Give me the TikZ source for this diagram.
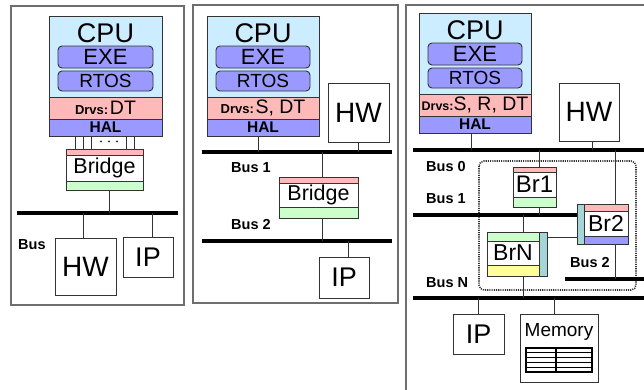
\documentclass[tikz,border=0pt]{standalone}
\usepackage{fontspec}
\setmainfont{Liberation Sans}
\usetikzlibrary{calc}

\definecolor{cpublue}{HTML}{CCECFF}
\definecolor{swblue}{HTML}{9999FF}
\definecolor{drvpink}{HTML}{FFB9B9}
\definecolor{brgreen}{HTML}{CCFFCC}
\definecolor{sideteal}{HTML}{A6D5D8}
\definecolor{bryellow}{HTML}{FFFF99}
\definecolor{framegray}{HTML}{6E6E6E}
\definecolor{edgegray}{HTML}{333333}

\newcommand\setfs[1]{\fontsize{#1}{#1}\selectfont}

\tikzset{
  x=1pt, y=-1pt,
  layer/.style={draw=edgegray, line width=0.9pt, inner sep=0pt, outer sep=0pt, anchor=north west},
  swbox/.style={layer, fill=swblue, rounded corners=4pt},
  plainbox/.style={layer, fill=white},
  panel/.style={draw=framegray, line width=1.3pt},
  wire/.style={draw=edgegray, line width=0.9pt},
  busline/.style={draw=black, line width=4pt},
  buslabel/.style={anchor=west, inner sep=0pt, font=\setfs{14.5}\bfseries},
  txt/.style={inner sep=0pt},
}

% CPU with its software stack: #1 prefix, #2 x, #3 y, #4 width, #5 driver line
\newcommand\cpustack[5]{%
  \node[layer, fill=cpublue, minimum width=#4, minimum height=81] (#1cpu) at (#2,#3) {};
  \node[txt, font=\setfs{27}] (#1cpulbl) at (#2+#4/2,#3+17) {CPU};
  \node[swbox, minimum width=#4-18, minimum height=22, font=\setfs{22}] (#1exe) at (#2+9,#3+30) {EXE};
  \node[swbox, minimum width=#4-18, minimum height=20, font=\setfs{19}] (#1rtos) at (#2+9,#3+55) {RTOS};
  \node[layer, fill=drvpink, minimum width=#4, minimum height=22] (#1drv) at (#2,#3+81) {#5};
  \node[layer, fill=swblue, minimum width=#4, minimum height=17, font=\setfs{15.5}\bfseries] (#1hal) at (#2,#3+103) {HAL};
}

\begin{document}
\begin{tikzpicture}
\useasboundingbox (0,0) rectangle (644,389);

% ---------------- left: single bus behind a bridge ----------------
\draw[panel] (11,6) rectangle (184,305);
\cpustack{a}{49}{16}{113}{{\setfs{13}\bfseries Drvs:}\,{\setfs{19.5}DT}}

\node[layer, fill=drvpink, minimum width=77, minimum height=6] (abrtop) at (66,149) {};
\node[layer, fill=white, minimum width=77, minimum height=26, font=\setfs{21.5}] (abrmid) at (66,155) {Bridge};
\node[layer, fill=brgreen, minimum width=77, minimum height=9] (abrbot) at (66,181) {};

% parallel lanes between HAL and bridge
\foreach \o/\n in {26/1,34/2,42/3,77/4,85/5}{
  \coordinate (alane\n) at ([xshift=\o pt]ahal.south west);
  \draw[wire] (alane\n) -- (alane\n |- abrtop.north);
}
\foreach \dx in {101,109,117} \fill[edgegray] (\dx,141.5) circle (1.1);

\coordinate (abusL) at (17,213);
\coordinate (abusR) at (178,213);
\draw[busline] (abusL) -- (abusR);
\coordinate (abrout) at ([xshift=4.5pt]abrbot.south);
\draw[wire] (abrout) -- (abrout |- abusL);

\node[plainbox, minimum width=61, minimum height=57, font=\setfs{28}] (ahw) at (55,238) {HW};
\node[plainbox, minimum width=50, minimum height=40, font=\setfs{27}] (aip) at (123,237) {IP};
\coordinate (ahwin) at ([xshift=-2.5pt]ahw.north);
\coordinate (aipin) at ([xshift=4pt]aip.north);
\draw[wire] (ahwin |- abusL) -- (ahwin);
\draw[wire] (aipin |- abusL) -- (aipin);
\node[buslabel] (abuslbl) at (18,245) {Bus};

% ---------------- middle: two buses joined by a bridge ----------------
\draw[panel] (193,5) rectangle (398,303);
\cpustack{b}{207}{16}{112}{{\setfs{13}\bfseries Drvs:}\,{\setfs{19.5}S, DT}}
\node[plainbox, minimum width=61, minimum height=59, font=\setfs{28}] (bhw) at (328,83) {HW};

\coordinate (bbus1L) at (202,152);
\coordinate (bbus1R) at (392,152);
\coordinate (bbus2L) at (202,241);
\coordinate (bbus2R) at (392,241);
\draw[busline] (bbus1L) -- (bbus1R);
\draw[busline] (bbus2L) -- (bbus2R);

\coordinate (bhalout) at ([xshift=-5pt]bhal.south);
\draw[wire] (bhalout) -- (bhalout |- bbus1L);
\draw[wire] (bhw.south) -- (bhw.south |- bbus1L);

\node[layer, fill=drvpink, minimum width=79, minimum height=6] (bbrtop) at (279,177) {};
\node[layer, fill=white, minimum width=79, minimum height=24, font=\setfs{21.5}] (bbrmid) at (279,183) {Bridge};
\node[layer, fill=brgreen, minimum width=79, minimum height=11] (bbrbot) at (279,207) {};
\coordinate (bbrin) at ([xshift=3.5pt]bbrtop.north);
\coordinate (bbrout) at ([xshift=3.5pt]bbrbot.south);
\draw[wire] (bbrin |- bbus1L) -- (bbrin);
\draw[wire] (bbrout) -- (bbrout |- bbus2L);

\node[plainbox, minimum width=50, minimum height=41, font=\setfs{27}] (bip) at (319,257) {IP};
\coordinate (bipin) at ([xshift=4pt]bip.north);
\draw[wire] (bipin |- bbus2L) -- (bipin);

\node[buslabel] (bbus1lbl) at (231,168) {Bus 1};
\node[buslabel] (bbus2lbl) at (231,225) {Bus 2};

% ---------------- right: bus hierarchy with several bridges ----------------
\draw[panel] (406,390) -- (406,5) -- (645,5);
\cpustack{c}{419}{13}{112}{{\setfs{12.5}\bfseries Drvs:}{\setfs{19.5}S, R, DT}}
\node[plainbox, minimum width=60, minimum height=58, font=\setfs{28}] (chw) at (559,83) {HW};

\coordinate (cbus0L) at (413,150);
\coordinate (cbus0R) at (645,150);
\coordinate (cbus1L) at (413,215);
\coordinate (cbus2R) at (645,279);
\coordinate (cbusNL) at (413,298);
\coordinate (cbusNR) at (645,298);

% dotted outline around the bridge cluster
\draw[edgegray, line width=1.6pt, dash pattern=on 1.1pt off 1.1pt, rounded corners=5pt] (479,161) rectangle (636,290);

\draw[busline] (cbus0L) -- (cbus0R);
\draw[busline] (cbusNL) -- (cbusNR);

\coordinate (challout) at ([xshift=-4pt]chal.south);
\coordinate (chwout) at ([xshift=3pt]chw.south);
\draw[wire] (challout) -- (challout |- cbus0L);
\draw[wire] (chwout) -- (chwout |- cbus0L);

% Br1
\node[layer, fill=drvpink, minimum width=43, minimum height=5] (cb1top) at (513,167) {};
\node[layer, fill=white, minimum width=43, minimum height=25, font=\setfs{24}] (cb1mid) at (513,172) {Br1};
\node[layer, fill=brgreen, minimum width=43, minimum height=10] (cb1bot) at (513,197) {};

% Br2
\node[layer, fill=sideteal, minimum width=7, minimum height=40] (cb2side) at (577,204) {};
\node[layer, fill=drvpink, minimum width=44, minimum height=7] (cb2top) at (584,204) {};
\node[layer, fill=white, minimum width=44, minimum height=25, font=\setfs{23}] (cb2mid) at (584,211) {Br2};
\node[layer, fill=swblue, minimum width=44, minimum height=8] (cb2bot) at (584,236) {};

% BrN
\node[layer, fill=brgreen, minimum width=52, minimum height=9] (cbntop) at (487,232) {};
\node[layer, fill=white, minimum width=52, minimum height=24, font=\setfs{23}] (cbnmid) at (487,241) {BrN};
\node[layer, fill=bryellow, minimum width=52, minimum height=11] (cbnbot) at (487,265) {};
\node[layer, fill=sideteal, minimum width=8, minimum height=44] (cbnside) at (539,232) {};

\coordinate (cbus1R) at (cb2side.west |- cbus1L);
\coordinate (cbus2L) at (565,279);
\draw[busline, line width=3.5pt] (cbus1L) -- (cbus1R);
\draw[busline, line width=3.5pt] (cbus2L) -- (cbus2R);

\coordinate (cb1in) at ([xshift=4.5pt]cb1top.north);
\coordinate (cb1out) at ([xshift=4.5pt]cb1bot.south);
\draw[wire] (cb1in |- cbus0L) -- (cb1in);
\draw[wire] (cb1out) -- (cb1out |- cbus1L);

\coordinate (cb2in) at ([xshift=9pt]cb2top.north);
\coordinate (cb2out) at ([xshift=9pt]cb2bot.south);
\draw[wire] (cb2in |- cbus0L) -- (cb2in);
\draw[wire] (cb2out) -- (cb2out |- cbus2L);

\coordinate (cbnin) at ([xshift=10pt]cbntop.north);
\coordinate (cbnout) at ([xshift=10pt]cbnbot.south);
\draw[wire] (cbnin |- cbus1L) -- (cbnin);
\draw[wire] (cbnout) -- (cbnout |- cbusNL);

\coordinate (cbnlink) at ([yshift=-5pt]cbnside.north east);
\draw[wire] (cbnlink) -- (cbnlink -| cb2side.west);

\node[buslabel] (cbus0lbl) at (426,167) {Bus 0};
\node[buslabel] (cbus1lbl) at (426,199) {Bus 1};
\node[buslabel] (cbusNlbl) at (426,283) {Bus N};
\node[buslabel] (cbus2lbl) at (570,263) {Bus 2};

% devices on bus N
\node[plainbox, minimum width=51, minimum height=40, font=\setfs{27}] (cip) at (453,314) {IP};
\node[plainbox, minimum width=78, minimum height=68] (cmem) at (520,314) {};
\node[txt, font=\setfs{19}] (cmemlbl) at (559,332) {Memory};
\node[layer, fill=white, line width=1.1pt, draw=black, minimum width=66, minimum height=24] (cmemtab) at (526,348) {};
\foreach \k in {0.2,0.4,0.6,0.8}
  \draw[wire, draw=black, line width=1.1pt] ($(cmemtab.north west)!\k!(cmemtab.south west)$) -- ($(cmemtab.north east)!\k!(cmemtab.south east)$);
\draw[wire, draw=black, line width=1.1pt] ($(cmemtab.north west)!0.455!(cmemtab.north east)$) -- ($(cmemtab.south west)!0.455!(cmemtab.south east)$);

\draw[wire] (cip.north |- cbusNL) -- (cip.north);
\coordinate (cmemin) at ([xshift=-5pt]cmem.north);
\draw[wire] (cmemin |- cbusNL) -- (cmemin);

\end{tikzpicture}
\end{document}
